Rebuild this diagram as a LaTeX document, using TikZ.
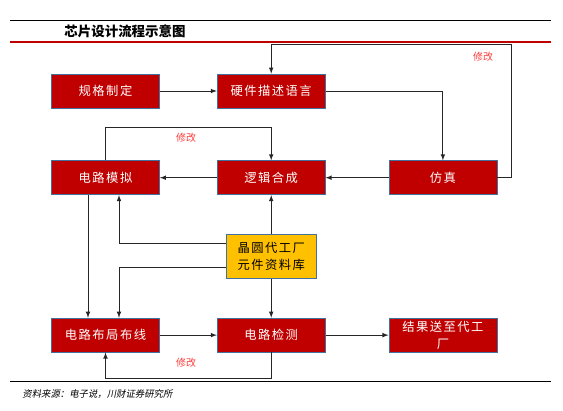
\documentclass[tikz,border=0pt]{standalone}
\usepackage{fontspec}
\newfontfamily\cjk{Noto Sans CJK SC}
\newfontfamily\cjkwide[LetterSpace=12]{Noto Sans CJK SC}
\newfontfamily\cjkslant[FakeSlant=0.2]{Noto Sans CJK SC}
\usepackage{tikz}
\usetikzlibrary{arrows,positioning}
\definecolor{boxred}{HTML}{C00000}
\definecolor{boxedge}{HTML}{41719C}
\definecolor{fixred}{HTML}{FF3B3B}
\definecolor{wafery}{HTML}{FFC000}
\tikzstyle{chip} = [rectangle,draw=boxedge,line width=0.6pt,fill=boxred,text=white,minimum width=3.24cm,minimum height=1.02cm,inner sep=1pt,font=\cjkwide\fontsize{10.5}{14}\selectfont,align=center]
\tikzstyle{lib} = [chip,fill=wafery,text=black,minimum width=2.7cm,minimum height=1.32cm]
\tikzstyle{fix} = [text=fixred,font=\cjk\fontsize{8.5}{10}\selectfont]
\tikzstyle{flow} = [draw=black!85,line width=0.8pt]

\begin{document}
\begin{tikzpicture}
				\useasboundingbox (0,0) rectangle (16.89,-12.33);
				\begin{scope}[node distance=1.71cm,>=latex]
					% rahmen
					\draw[line width=0.6pt] (0.3,-0.6) -- (16.53,-0.6);
					\draw[boxred,line width=1.6pt] (0.3,-1.26) -- (16.53,-1.26);
					\draw[line width=0.6pt] (0.3,-11.43) -- (16.53,-11.43);
					\node[font=\cjk\bfseries\fontsize{11.5}{13}\selectfont] (title) at (3.75,-0.95) {芯片设计流程示意图};
					\node[font=\cjkslant\fontsize{8}{10}\selectfont,anchor=west] (source) at (0.55,-11.82) {资料来源：电子说，川财证券研究所};
					
					\node[chip] (spec) at (3.165,-2.73) {规格制定};
					\node[chip] (hdl) [right=of spec] {硬件描述语言};
					\node[chip] (sim) [below=1.56cm of spec] {电路模拟};
					\node[chip] (synth) [right=of sim] {逻辑合成};
					\node[chip] (verify) [right=1.89cm of synth] {仿真};
					\node[lib] (foundry) [below=1.17cm of synth] {晶圆代工厂\\元件资料库};
					\node[chip] (detect) [below=1.17cm of foundry] {电路检测};
					\node[chip] (layout) [left=of detect] {电路布局布线};
					\node[chip] (result) [right=1.89cm of detect] {结果送至代工\\厂};
					\coordinate (fixtop) at (15.33,-1.32);
					
					\draw[flow,->] (spec) -- (hdl);
					\draw[flow,->] (hdl.east) -| (verify.north);
					\draw[flow,->] (verify) -- (synth);
					\draw[flow,->] (verify.east) -| (fixtop) -| (hdl.north);
					\node[fix] (fix1) at (14.49,-1.71) {修改};
					
					\draw[flow,->] (synth) -- (sim);
					\draw[flow,->] (sim.north) -- ++(0,0.99) -| (synth.north);
					\node[fix] (fix2) at (5.58,-4.14) {修改};
					\draw[flow,->] ([xshift=-0.525cm]sim.south) -- ([xshift=-0.525cm]layout.north);
					\draw[flow,->] ([yshift=0.39cm]foundry.west) -| ([xshift=0.405cm]sim.south);
					\draw[flow,->] ([yshift=-0.33cm]foundry.west) -| ([xshift=0.405cm]layout.north);
					\draw[flow,->] (foundry) -- (synth);
					\draw[flow,->] (foundry) -- (detect);
					
					\draw[flow,->] (layout) -- (detect);
					\draw[flow,->] (detect) -- (result);
					\draw[flow,->] (detect.south) -- ++(0,-0.78) -| (layout.south);
					\node[fix] (fix3) at (5.58,-10.89) {修改};
				\end{scope}
			\end{tikzpicture}
\end{document}
